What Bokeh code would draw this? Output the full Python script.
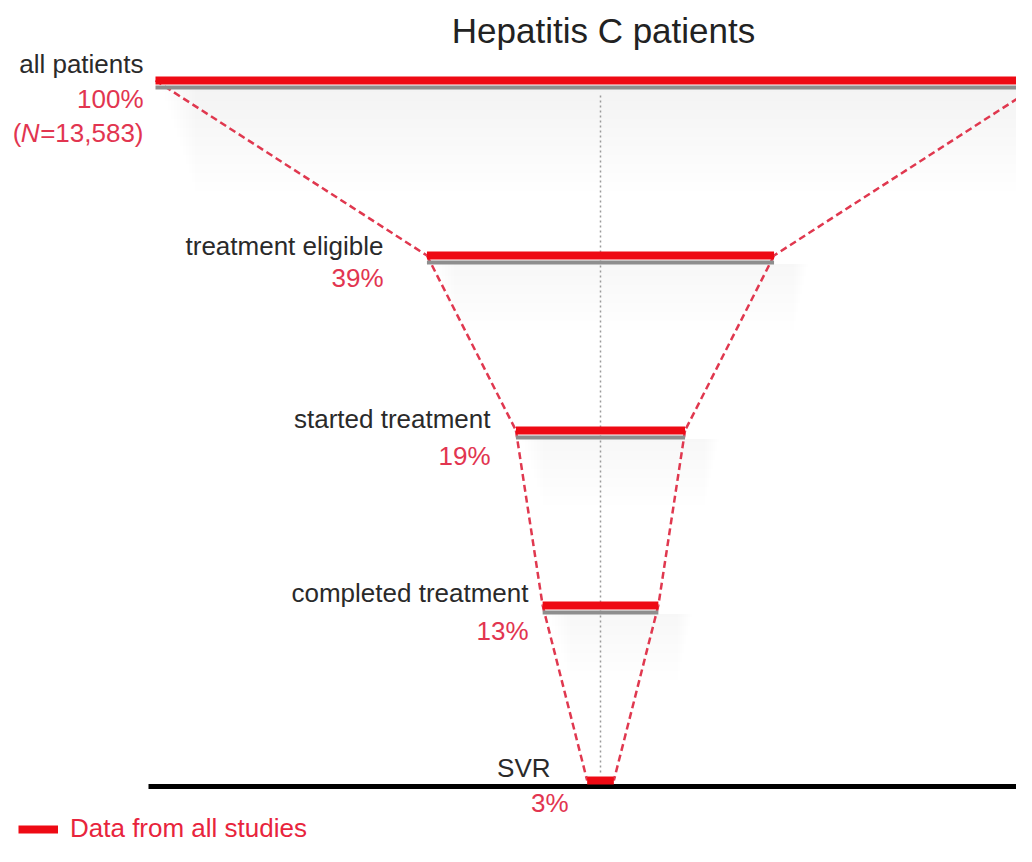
from bokeh.plotting import figure
from bokeh.models import Range1d, ColumnDataSource, Legend, LegendItem
from bokeh.core.properties import value
from bokeh.embed import file_html
from bokeh.resources import INLINE

# ---------------- data ----------------
stages = ["all patients", "treatment eligible", "started treatment",
          "completed treatment", "SVR"]
percent = [100, 39, 19, 13, 3]
pct_labels = ["100%", "39%", "19%", "13%", "3%"]
n_total = "=13,583)"
title_text = "Hepatitis C patients"
legend_label = "Data from all studies"

# ---------------- layout ----------------
W, H = 1016, 846
PX_PER_PCT = 8.9      # screen px per percentage point
PX_PER_STAGE = 175    # screen px between stages
CX, Y0 = 600, 80      # screen position of centre / first bar

def sx(px):
    return (px - CX) / PX_PER_PCT

def sy(py):
    return (py - Y0) / PX_PER_STAGE

name_right_px = [143, 383, 490, 528, 550]
pct_right_px = [143, 383, 490, 528, 568]
name_dy = [-17, -10, -12, -13, -13]
pct_dy = [18, 22, 25, 25, 22]

RED = "#ee0a14"
TXT_RED = "#e23550"
DASH_RED = "#e0384f"
FONT = value("Liberation Sans")
FS = "26px"

p = figure(width=W, height=H, x_range=Range1d(sx(0), sx(W)),
           y_range=Range1d(sy(H), sy(0)), x_axis_type=None, y_axis_type=None,
           output_backend="svg", toolbar_location=None, min_border=0)
p.grid.visible = False
p.outline_line_color = None
p.background_fill_color = "white"
p.border_fill_color = "white"

n = len(stages)
idx = list(range(n))
left = [-v / 2 for v in percent]
right = [v / 2 for v in percent]

# soft shadows below bars
for i in idx[:-1]:
    depth = 12 if i == 0 else 8
    for k in range(depth):
        p.quad(left=left[i] + (6 + 3 * k) / PX_PER_PCT,
               right=right[i] + (34 - 2 * k) / PX_PER_PCT,
               top=i + 8 / PX_PER_STAGE, bottom=i + (12 + 9 * k) / PX_PER_STAGE,
               fill_color="black", fill_alpha=0.0045, line_color=None)

# centre dotted line
p.segment(x0=[0], y0=[15 / PX_PER_STAGE], x1=[0], y1=[n - 1 - 6 / PX_PER_STAGE],
          line_color="#9a9a9a", line_width=1.5, line_dash="2 3")

# dashed funnel connectors
src_c = ColumnDataSource(dict(
    x0=left[:-1] + right[:-1], y0=idx[:-1] + idx[:-1],
    x1=left[1:] + right[1:], y1=idx[1:] + idx[1:]))
p.segment(x0="x0", y0="y0", x1="x1", y1="y1", source=src_c,
          line_color=DASH_RED, line_width=2.5, line_dash="7 4")

# baseline
p.segment(x0=[left[0] - 7 / PX_PER_PCT], y0=[n - 1 + 6 / PX_PER_STAGE],
          x1=[sx(W) + 1], y1=[n - 1 + 6 / PX_PER_STAGE],
          line_color="black", line_width=5)

# grey underline of bars
src_g = ColumnDataSource(dict(x0=left[:-1], x1=right[:-1],
                              y=[i + 7 / PX_PER_STAGE for i in idx[:-1]]))
p.segment(x0="x0", y0="y", x1="x1", y1="y", source=src_g,
          line_color="#8e8e8e", line_width=4)

# red bars
src_b = ColumnDataSource(dict(x0=left, x1=right, y=idx))
bars = p.segment(x0="x0", y0="y", x1="x1", y1="y", source=src_b,
                 line_color=RED, line_width=8)

# labels
src_n = ColumnDataSource(dict(x=[sx(v) for v in name_right_px],
                              y=[i + d / PX_PER_STAGE for i, d in zip(idx, name_dy)],
                              t=stages))
p.text(x="x", y="y", text="t", source=src_n, text_align="right",
       text_baseline="middle", text_font=FONT, text_font_size=FS,
       text_color="#2a2a2a")

src_p = ColumnDataSource(dict(x=[sx(v) for v in pct_right_px],
                              y=[i + d / PX_PER_STAGE for i, d in zip(idx, pct_dy)],
                              t=pct_labels))
p.text(x="x", y="y", text="t", source=src_p, text_align="right",
       text_baseline="middle", text_font=FONT, text_font_size=FS,
       text_color=TXT_RED)

# (N=13,583)
ny = sy(132)
nx = sx(name_right_px[0])
p.text(x=[nx], y=[ny], text=[n_total], text_align="right", text_baseline="middle",
       text_font=FONT, text_font_size=FS, text_color=TXT_RED)
p.text(x=[nx - 104 / PX_PER_PCT], y=[ny], text=["N"], text_align="right",
       text_baseline="middle", text_font=FONT, text_font_size=FS,
       text_font_style="italic", text_color=TXT_RED)
p.text(x=[nx - 122 / PX_PER_PCT], y=[ny], text=["("], text_align="right",
       text_baseline="middle", text_font=FONT, text_font_size=FS,
       text_color=TXT_RED)

# title
p.text(x=[sx(603)], y=[sy(30)], text=[title_text], text_align="center",
       text_baseline="middle", text_font=FONT, text_font_size="35px",
       text_color="#222222")

# legend
legend = Legend(items=[LegendItem(label=legend_label, renderers=[bars])],
                location=(18, 2), orientation="vertical",
                glyph_width=40, glyph_height=22, label_standoff=12,
                padding=0, margin=0, spacing=0,
                label_text_font="Liberation Sans", label_text_font_size=FS,
                label_text_color="#e8243c",
                background_fill_alpha=0, border_line_color=None)
p.add_layout(legend, "center")

open("out.html", "w").write(file_html(p, INLINE))
